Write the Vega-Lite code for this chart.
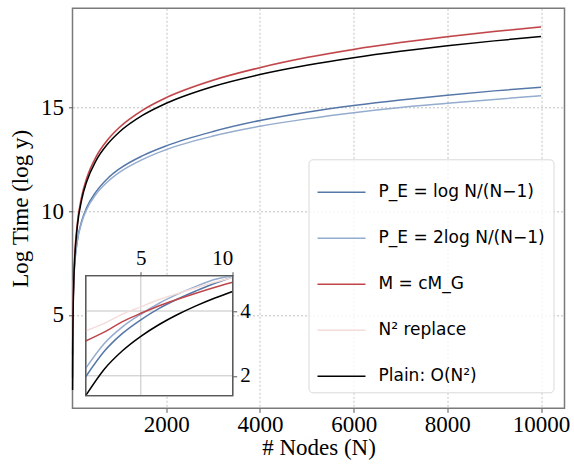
{
  "$schema": "https://vega.github.io/schema/vega-lite/v6.json",
  "width": 492,
  "height": 400,
  "autosize": {"type": "none"},
  "padding": {"left": 72.5, "top": 8.3, "right": 9.5, "bottom": 58.7},
  "background": "white",
  "config": {
    "font": "Liberation Serif",
    "view": {"stroke": "#7a7a7a", "strokeWidth": 1.5},
    "legend": {
      "orient": "none",
      "legendX": 236,
      "legendY": 151,
      "title": null,
      "symbolType": "stroke",
      "symbolSize": 2304,
      "symbolStrokeWidth": 1.5,
      "labelFont": "DejaVu Sans",
      "labelFontSize": 17,
      "labelColor": "#000",
      "labelOffset": 12,
      "rowPadding": 13,
      "padding": 8,
      "strokeColor": "#d9d9d9",
      "fillColor": "rgba(255,255,255,0.8)",
      "cornerRadius": 4,
      "labelLimit": 400
    }
  },
  "datasets": {
    "curves": [
      {"N": 2, "s": "P_E = log N/(N−1)", "v": 1.97},
      {"N": 3, "s": "P_E = log N/(N−1)", "v": 2.75},
      {"N": 4, "s": "P_E = log N/(N−1)", "v": 3.31},
      {"N": 5, "s": "P_E = log N/(N−1)", "v": 3.73},
      {"N": 6, "s": "P_E = log N/(N−1)", "v": 4.08},
      {"N": 7, "s": "P_E = log N/(N−1)", "v": 4.37},
      {"N": 8, "s": "P_E = log N/(N−1)", "v": 4.62},
      {"N": 9, "s": "P_E = log N/(N−1)", "v": 4.85},
      {"N": 10, "s": "P_E = log N/(N−1)", "v": 5.05},
      {"N": 15, "s": "P_E = log N/(N−1)", "v": 5.75},
      {"N": 20, "s": "P_E = log N/(N−1)", "v": 6.21},
      {"N": 30, "s": "P_E = log N/(N−1)", "v": 6.81},
      {"N": 50, "s": "P_E = log N/(N−1)", "v": 7.55},
      {"N": 100, "s": "P_E = log N/(N−1)", "v": 8.55},
      {"N": 200, "s": "P_E = log N/(N−1)", "v": 9.55},
      {"N": 300, "s": "P_E = log N/(N−1)", "v": 10.16},
      {"N": 500, "s": "P_E = log N/(N−1)", "v": 10.93},
      {"N": 750, "s": "P_E = log N/(N−1)", "v": 11.58},
      {"N": 1000, "s": "P_E = log N/(N−1)", "v": 12.04},
      {"N": 1500, "s": "P_E = log N/(N−1)", "v": 12.68},
      {"N": 2000, "s": "P_E = log N/(N−1)", "v": 13.15},
      {"N": 3000, "s": "P_E = log N/(N−1)", "v": 13.84},
      {"N": 4000, "s": "P_E = log N/(N−1)", "v": 14.37},
      {"N": 5000, "s": "P_E = log N/(N−1)", "v": 14.77},
      {"N": 6000, "s": "P_E = log N/(N−1)", "v": 15.09},
      {"N": 7000, "s": "P_E = log N/(N−1)", "v": 15.36},
      {"N": 8000, "s": "P_E = log N/(N−1)", "v": 15.59},
      {"N": 9000, "s": "P_E = log N/(N−1)", "v": 15.8},
      {"N": 10000, "s": "P_E = log N/(N−1)", "v": 15.97},

      {"N": 2, "s": "P_E = 2log N/(N−1)", "v": 2.23},
      {"N": 3, "s": "P_E = 2log N/(N−1)", "v": 2.99},
      {"N": 4, "s": "P_E = 2log N/(N−1)", "v": 3.51},
      {"N": 5, "s": "P_E = 2log N/(N−1)", "v": 3.9},
      {"N": 6, "s": "P_E = 2log N/(N−1)", "v": 4.24},
      {"N": 7, "s": "P_E = 2log N/(N−1)", "v": 4.52},
      {"N": 8, "s": "P_E = 2log N/(N−1)", "v": 4.76},
      {"N": 9, "s": "P_E = 2log N/(N−1)", "v": 4.97},
      {"N": 10, "s": "P_E = 2log N/(N−1)", "v": 5.15},
      {"N": 15, "s": "P_E = 2log N/(N−1)", "v": 5.8},
      {"N": 20, "s": "P_E = 2log N/(N−1)", "v": 6.23},
      {"N": 30, "s": "P_E = 2log N/(N−1)", "v": 6.82},
      {"N": 50, "s": "P_E = 2log N/(N−1)", "v": 7.54},
      {"N": 100, "s": "P_E = 2log N/(N−1)", "v": 8.51},
      {"N": 200, "s": "P_E = 2log N/(N−1)", "v": 9.48},
      {"N": 300, "s": "P_E = 2log N/(N−1)", "v": 10.07},
      {"N": 500, "s": "P_E = 2log N/(N−1)", "v": 10.81},
      {"N": 750, "s": "P_E = 2log N/(N−1)", "v": 11.42},
      {"N": 1000, "s": "P_E = 2log N/(N−1)", "v": 11.87},
      {"N": 1500, "s": "P_E = 2log N/(N−1)", "v": 12.5},
      {"N": 2000, "s": "P_E = 2log N/(N−1)", "v": 12.97},
      {"N": 3000, "s": "P_E = 2log N/(N−1)", "v": 13.62},
      {"N": 4000, "s": "P_E = 2log N/(N−1)", "v": 14.09},
      {"N": 5000, "s": "P_E = 2log N/(N−1)", "v": 14.45},
      {"N": 6000, "s": "P_E = 2log N/(N−1)", "v": 14.75},
      {"N": 7000, "s": "P_E = 2log N/(N−1)", "v": 15.0},
      {"N": 8000, "s": "P_E = 2log N/(N−1)", "v": 15.2},
      {"N": 9000, "s": "P_E = 2log N/(N−1)", "v": 15.39},
      {"N": 10000, "s": "P_E = 2log N/(N−1)", "v": 15.56},

      {"N": 2, "s": "N² replace", "v": 3.386},
      {"N": 3, "s": "N² replace", "v": 3.617},
      {"N": 4, "s": "N² replace", "v": 3.903},
      {"N": 5, "s": "N² replace", "v": 4.129},
      {"N": 6, "s": "N² replace", "v": 4.354},
      {"N": 7, "s": "N² replace", "v": 4.542},
      {"N": 8, "s": "N² replace", "v": 4.719},
      {"N": 9, "s": "N² replace", "v": 4.884},
      {"N": 10, "s": "N² replace", "v": 5.035},
      {"N": 15, "s": "N² replace", "v": 5.736},
      {"N": 20, "s": "N² replace", "v": 6.261},
      {"N": 30, "s": "N² replace", "v": 7.032},
      {"N": 50, "s": "N² replace", "v": 8.024},
      {"N": 100, "s": "N² replace", "v": 9.39},
      {"N": 200, "s": "N² replace", "v": 10.767},
      {"N": 300, "s": "N² replace", "v": 11.588},
      {"N": 500, "s": "N² replace", "v": 12.629},
      {"N": 750, "s": "N² replace", "v": 13.46},
      {"N": 1000, "s": "N² replace", "v": 14.056},
      {"N": 1500, "s": "N² replace", "v": 14.896},
      {"N": 2000, "s": "N² replace", "v": 15.492},
      {"N": 3000, "s": "N² replace", "v": 16.333},
      {"N": 4000, "s": "N² replace", "v": 16.938},
      {"N": 5000, "s": "N² replace", "v": 17.424},
      {"N": 6000, "s": "N² replace", "v": 17.819},
      {"N": 7000, "s": "N² replace", "v": 18.147},
      {"N": 8000, "s": "N² replace", "v": 18.434},
      {"N": 9000, "s": "N² replace", "v": 18.68},
      {"N": 10000, "s": "N² replace", "v": 18.901},

      {"N": 2, "s": "M = cM_G", "v": 3.076},
      {"N": 3, "s": "M = cM_G", "v": 3.347},
      {"N": 4, "s": "M = cM_G", "v": 3.673},
      {"N": 5, "s": "M = cM_G", "v": 3.929},
      {"N": 6, "s": "M = cM_G", "v": 4.164},
      {"N": 7, "s": "M = cM_G", "v": 4.362},
      {"N": 8, "s": "M = cM_G", "v": 4.549},
      {"N": 9, "s": "M = cM_G", "v": 4.724},
      {"N": 10, "s": "M = cM_G", "v": 4.885},
      {"N": 15, "s": "M = cM_G", "v": 5.616},
      {"N": 20, "s": "M = cM_G", "v": 6.161},
      {"N": 30, "s": "M = cM_G", "v": 6.952},
      {"N": 50, "s": "M = cM_G", "v": 7.964},
      {"N": 100, "s": "M = cM_G", "v": 9.35},
      {"N": 200, "s": "M = cM_G", "v": 10.747},
      {"N": 300, "s": "M = cM_G", "v": 11.568},
      {"N": 500, "s": "M = cM_G", "v": 12.609},
      {"N": 750, "s": "M = cM_G", "v": 13.44},
      {"N": 1000, "s": "M = cM_G", "v": 14.036},
      {"N": 1500, "s": "M = cM_G", "v": 14.876},
      {"N": 2000, "s": "M = cM_G", "v": 15.472},
      {"N": 3000, "s": "M = cM_G", "v": 16.313},
      {"N": 4000, "s": "M = cM_G", "v": 16.918},
      {"N": 5000, "s": "M = cM_G", "v": 17.404},
      {"N": 6000, "s": "M = cM_G", "v": 17.799},
      {"N": 7000, "s": "M = cM_G", "v": 18.127},
      {"N": 8000, "s": "M = cM_G", "v": 18.414},
      {"N": 9000, "s": "M = cM_G", "v": 18.66},
      {"N": 10000, "s": "M = cM_G", "v": 18.881},

      {"N": 2, "s": "Plain: O(N²)", "v": 1.386},
      {"N": 3, "s": "Plain: O(N²)", "v": 2.197},
      {"N": 4, "s": "Plain: O(N²)", "v": 2.773},
      {"N": 5, "s": "Plain: O(N²)", "v": 3.219},
      {"N": 6, "s": "Plain: O(N²)", "v": 3.584},
      {"N": 7, "s": "Plain: O(N²)", "v": 3.892},
      {"N": 8, "s": "Plain: O(N²)", "v": 4.159},
      {"N": 9, "s": "Plain: O(N²)", "v": 4.394},
      {"N": 10, "s": "Plain: O(N²)", "v": 4.605},
      {"N": 15, "s": "Plain: O(N²)", "v": 5.416},
      {"N": 20, "s": "Plain: O(N²)", "v": 5.991},
      {"N": 30, "s": "Plain: O(N²)", "v": 6.802},
      {"N": 50, "s": "Plain: O(N²)", "v": 7.824},
      {"N": 100, "s": "Plain: O(N²)", "v": 9.21},
      {"N": 200, "s": "Plain: O(N²)", "v": 10.597},
      {"N": 300, "s": "Plain: O(N²)", "v": 11.408},
      {"N": 500, "s": "Plain: O(N²)", "v": 12.429},
      {"N": 750, "s": "Plain: O(N²)", "v": 13.24},
      {"N": 1000, "s": "Plain: O(N²)", "v": 13.816},
      {"N": 1500, "s": "Plain: O(N²)", "v": 14.626},
      {"N": 2000, "s": "Plain: O(N²)", "v": 15.202},
      {"N": 3000, "s": "Plain: O(N²)", "v": 16.013},
      {"N": 4000, "s": "Plain: O(N²)", "v": 16.588},
      {"N": 5000, "s": "Plain: O(N²)", "v": 17.034},
      {"N": 6000, "s": "Plain: O(N²)", "v": 17.399},
      {"N": 7000, "s": "Plain: O(N²)", "v": 17.707},
      {"N": 8000, "s": "Plain: O(N²)", "v": 17.974},
      {"N": 9000, "s": "Plain: O(N²)", "v": 18.21},
      {"N": 10000, "s": "Plain: O(N²)", "v": 18.421}
    ],
    "insetGrid": [{"g": 2}, {"g": 4}],
    "one": [{}]
  },
  "layer": [
    {
      "data": {"name": "curves"},
      "mark": {"type": "line", "strokeWidth": 1.5, "interpolate": "monotone"},
      "encoding": {
        "x": {
          "field": "N", "type": "quantitative",
          "scale": {"domain": [0, 10500], "nice": false, "zero": false},
          "axis": {
            "values": [2000, 4000, 6000, 8000, 10000], "format": "d",
            "title": "# Nodes (N)",
            "grid": true, "gridDash": [2, 2], "gridColor": "#b3b3b3", "gridWidth": 0.8,
            "domain": false, "tickColor": "#555", "tickSize": 4,
            "labelFontSize": 23, "labelColor": "#000", "labelPadding": 1,
            "titleFontSize": 23, "titleFontWeight": "normal", "titleColor": "#000", "titlePadding": 0
          }
        },
        "y": {
          "field": "v", "type": "quantitative",
          "scale": {"domain": [0.5, 19.78], "nice": false, "zero": false},
          "axis": {
            "values": [5, 10, 15],
            "title": "Log Time (log y)",
            "grid": true, "gridDash": [2, 2], "gridColor": "#b3b3b3", "gridWidth": 0.8,
            "domain": false, "tickColor": "#555", "tickSize": 4,
            "labelFontSize": 23, "labelColor": "#000", "labelPadding": 5,
            "titleFontSize": 23, "titleFontWeight": "normal", "titleColor": "#000", "titlePadding": 8
          }
        },
        "color": {
          "field": "s", "type": "nominal",
          "scale": {
            "domain": ["P_E = log N/(N−1)", "P_E = 2log N/(N−1)", "M = cM_G", "N² replace", "Plain: O(N²)"],
            "range": ["#5577a8", "#94acce", "#c0454a", "#f3dcd9", "#000000"]
          },
          "legend": {}
        }
      }
    },
    {
      "layer": [
        {
          "data": {"name": "one"},
          "mark": {"type": "rect", "fill": "white", "stroke": "#5a5a5a", "strokeWidth": 1.3},
          "encoding": {
            "x": {"datum": 2, "type": "quantitative", "scale": {"domain": [2, 10], "range": [13.2, 160.2], "nice": false, "zero": false}, "axis": {"orient": "top", "offset": -267.4, "values": [5, 10], "grid": false, "domain": false, "title": null, "tickColor": "#555", "tickSize": 4, "labelFontSize": 21, "labelColor": "#000", "labelPadding": 3, "zindex": 2}},
            "x2": {"datum": 10},
            "y": {"datum": 1.386, "type": "quantitative", "scale": {"domain": [1.386, 5.09], "range": [387.4, 267.4], "nice": false, "zero": false, "clamp": true}, "axis": {"orient": "right", "offset": -331.8, "values": [2, 4], "grid": false, "domain": false, "title": null, "tickColor": "#555", "tickSize": 4, "labelFontSize": 21, "labelColor": "#000", "labelPadding": 3, "zindex": 2}},
            "y2": {"datum": 5.09}
          }
        },
        {
          "data": {"name": "one"},
          "mark": {"type": "rule", "color": "#c4c4c4", "strokeWidth": 1},
          "encoding": {
            "x": {"datum": 5, "type": "quantitative", "scale": {"domain": [2, 10], "range": [13.2, 160.2], "nice": false, "zero": false}, "axis": {"orient": "top", "offset": -267.4, "values": [5, 10], "grid": false, "domain": false, "title": null, "tickColor": "#555", "tickSize": 4, "labelFontSize": 21, "labelColor": "#000", "labelPadding": 3, "zindex": 2}},
            "y": {"datum": 1.386, "type": "quantitative", "scale": {"domain": [1.386, 5.09], "range": [387.4, 267.4], "nice": false, "zero": false, "clamp": true}, "axis": {"orient": "right", "offset": -331.8, "values": [2, 4], "grid": false, "domain": false, "title": null, "tickColor": "#555", "tickSize": 4, "labelFontSize": 21, "labelColor": "#000", "labelPadding": 3, "zindex": 2}},
            "y2": {"datum": 5.09}
          }
        },
        {
          "data": {"name": "insetGrid"},
          "mark": {"type": "rule", "color": "#c4c4c4", "strokeWidth": 1},
          "encoding": {
            "x": {"datum": 2, "type": "quantitative", "scale": {"domain": [2, 10], "range": [13.2, 160.2], "nice": false, "zero": false}, "axis": {"orient": "top", "offset": -267.4, "values": [5, 10], "grid": false, "domain": false, "title": null, "tickColor": "#555", "tickSize": 4, "labelFontSize": 21, "labelColor": "#000", "labelPadding": 3, "zindex": 2}},
            "x2": {"datum": 10},
            "y": {"field": "g", "type": "quantitative", "scale": {"domain": [1.386, 5.09], "range": [387.4, 267.4], "nice": false, "zero": false, "clamp": true}, "axis": {"orient": "right", "offset": -331.8, "values": [2, 4], "grid": false, "domain": false, "title": null, "tickColor": "#555", "tickSize": 4, "labelFontSize": 21, "labelColor": "#000", "labelPadding": 3, "zindex": 2}}
          }
        },
        {
          "data": {"name": "curves"},
          "transform": [{"filter": "datum.N <= 10"}],
          "mark": {"type": "line", "strokeWidth": 1.5, "interpolate": "monotone"},
          "encoding": {
            "x": {"field": "N", "type": "quantitative", "scale": {"domain": [2, 10], "range": [13.2, 160.2], "nice": false, "zero": false}, "axis": {"orient": "top", "offset": -267.4, "values": [5, 10], "grid": false, "domain": false, "title": null, "tickColor": "#555", "tickSize": 4, "labelFontSize": 21, "labelColor": "#000", "labelPadding": 3, "zindex": 2}},
            "y": {"field": "v", "type": "quantitative", "scale": {"domain": [1.386, 5.09], "range": [387.4, 267.4], "nice": false, "zero": false, "clamp": true}, "axis": {"orient": "right", "offset": -331.8, "values": [2, 4], "grid": false, "domain": false, "title": null, "tickColor": "#555", "tickSize": 4, "labelFontSize": 21, "labelColor": "#000", "labelPadding": 3, "zindex": 2}},
            "color": {"field": "s", "type": "nominal"}
          }
        },
        {
          "data": {"name": "one"},
          "mark": {"type": "rect", "fill": null, "stroke": "#5a5a5a", "strokeWidth": 1.3},
          "encoding": {
            "x": {"datum": 2, "type": "quantitative", "scale": {"domain": [2, 10], "range": [13.2, 160.2], "nice": false, "zero": false}, "axis": {"orient": "top", "offset": -267.4, "values": [5, 10], "grid": false, "domain": false, "title": null, "tickColor": "#555", "tickSize": 4, "labelFontSize": 21, "labelColor": "#000", "labelPadding": 3, "zindex": 2}},
            "x2": {"datum": 10},
            "y": {"datum": 1.386, "type": "quantitative", "scale": {"domain": [1.386, 5.09], "range": [387.4, 267.4], "nice": false, "zero": false, "clamp": true}, "axis": {"orient": "right", "offset": -331.8, "values": [2, 4], "grid": false, "domain": false, "title": null, "tickColor": "#555", "tickSize": 4, "labelFontSize": 21, "labelColor": "#000", "labelPadding": 3, "zindex": 2}},
            "y2": {"datum": 5.09}
          }
        }
      ]
    }
  ],
  "resolve": {
    "scale": {"x": "independent", "y": "independent"},
    "axis": {"x": "independent", "y": "independent"}
  }
}
